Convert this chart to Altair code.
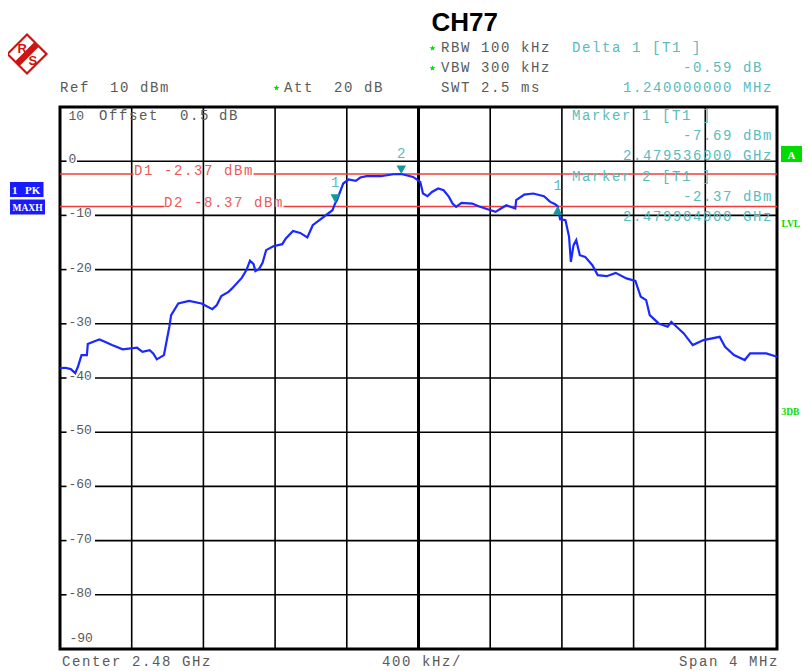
import altair as alt
import pandas as pd

# ------------------------------------------------------------------ data
freq_mhz = [2478.00, 2478.03, 2478.06, 2478.085, 2478.10, 2478.12, 2478.15, 2478.155, 2478.20, 2478.22,
            2478.25, 2478.29, 2478.35, 2478.43, 2478.46, 2478.50, 2478.52, 2478.54, 2478.58, 2478.61,
            2478.62, 2478.66, 2478.72, 2478.79, 2478.85, 2478.875, 2478.90, 2478.94, 2478.96, 2479.015,
            2479.04, 2479.06, 2479.08, 2479.09, 2479.11, 2479.13, 2479.15, 2479.19, 2479.24, 2479.26,
            2479.30, 2479.34, 2479.38, 2479.41, 2479.46, 2479.52, 2479.536, 2479.545, 2479.58, 2479.61,
            2479.65, 2479.675, 2479.71, 2479.79, 2479.86, 2479.904, 2479.97, 2480.01, 2480.025, 2480.05,
            2480.075, 2480.11, 2480.14, 2480.17, 2480.19, 2480.21, 2480.24, 2480.30, 2480.335, 2480.39,
            2480.43, 2480.46, 2480.49, 2480.54, 2480.545, 2480.59, 2480.64, 2480.70, 2480.735, 2480.76,
            2480.776, 2480.79, 2480.82, 2480.84, 2480.85, 2480.865, 2480.88, 2480.90, 2480.93, 2480.97,
            2481.00, 2481.05, 2481.10, 2481.16, 2481.21, 2481.24, 2481.27, 2481.29, 2481.34, 2481.39,
            2481.41, 2481.48, 2481.53, 2481.59, 2481.68, 2481.71, 2481.76, 2481.82, 2481.85, 2481.94,
            2482.00]
level_dbm = [-38.17, -38.11, -38.35, -39.09, -37.93, -35.77, -35.77, -33.74, -33.13, -32.88,
             -33.32, -33.93, -34.72, -34.42, -35.16, -34.85, -35.46, -36.56, -35.77, -30.55,
             -28.40, -26.24, -25.76, -26.24, -27.29, -26.55, -24.89, -24.10, -23.47, -21.48,
             -20.10, -18.35, -19.00, -20.29, -19.92, -18.76, -16.41, -15.68, -15.31, -14.26,
             -12.86, -13.23, -14.07, -11.81, -10.57, -9.04, -7.69, -7.20, -4.12, -3.38,
             -3.64, -3.01, -2.77, -2.77, -2.41, -2.37, -2.90, -3.82, -5.96, -6.46,
             -5.67, -5.04, -5.35, -6.59, -7.81, -8.43, -7.70, -7.81, -8.30, -8.91,
             -9.35, -8.73, -8.12, -8.73, -7.20, -6.15, -5.96, -6.46, -7.51, -7.90,
             -8.28, -10.70, -10.88, -13.96, -18.57, -15.49, -14.57, -17.34, -17.65, -19.18,
             -21.02, -21.21, -20.60, -21.63, -22.07, -25.02, -25.63, -28.40, -29.93, -30.55,
             -29.63, -31.77, -33.93, -33.00, -32.40, -34.24, -35.77, -36.69, -35.46, -35.46,
             -36.08]

marker_freq = [2479.536, 2479.904, 2480.776]
marker_level = [-7.69, -2.37, -8.28]
marker_label = ["1", "2", "1"]
marker_kind = ["down", "down", "up"]

display_line_level = [-2.37, -8.37]
display_line_name = ["D1", "D2"]

x_grid = [2478.4, 2478.8, 2479.2, 2479.6, 2480.4, 2480.8, 2481.2, 2481.6]
x_center = [2480.0]
y_grid = [0, -10, -20, -30, -40, -50, -60, -70, -80]
y_labels = ["0", "-10", "-20", "-30", "-40", "-50", "-60", "-70", "-80"]
x_domain = [2478.0, 2482.0]
y_domain = [-90.0, 10.0]

# ------------------------------------------------------------------ layout
W, H = 717, 542
PADL, PADT, PADR, PADB = 52, 99, 25, 22
OX, OY = 8 + PADL, 8 + PADT  # page position of plot origin

XS = alt.Scale(domain=x_domain, nice=False, zero=False)
YS = alt.Scale(domain=y_domain, nice=False, zero=False)

GRAY = "#5a5a5a"
TEAL_T = "#58bcbc"
TEAL_M = "#12999a"
RED_L = "#f23c3c"
RED_T = "#ea5a5a"
GREEN = "#00dc00"
BLUE_BOX = "#1a1aff"
TRACE = "#1b28ff"
MONO = "Liberation Mono"


def mono_rows(segments, pitch=10.0):
    rows = []
    for s, x0, y0 in segments:
        for i, ch in enumerate(s):
            if ch != " ":
                rows.append({"ch": ch, "px": x0 - OX + i * pitch, "py": y0 - OY})
    return pd.DataFrame(rows)


def pix_text(df, color, size=14, font=MONO, weight="normal", align="left"):
    return alt.Chart(df).mark_text(
        align=align, baseline="alphabetic", font=font, fontSize=size,
        color=color, fontWeight=weight
    ).encode(
        x=alt.X("px:Q", scale=None, axis=None),
        y=alt.Y("py:Q", scale=None, axis=None),
        text="ch:N",
    )


def free_text(items, color, size, font, weight="normal", align="left"):
    df = pd.DataFrame([{"ch": t, "px": x - OX, "py": y - OY} for t, x, y in items])
    return pix_text(df, color, size, font, weight, align)


layers = []

# --- vertical grid
grid_df = pd.DataFrame({"f": x_grid})
layers.append(alt.Chart(grid_df).mark_rule(color="#000000", strokeWidth=1.6).encode(
    x=alt.X("f:Q", scale=XS, axis=None)))
layers.append(alt.Chart(pd.DataFrame({"f": x_center})).mark_rule(color="#000000", strokeWidth=3).encode(
    x=alt.X("f:Q", scale=XS, axis=None)))

# --- horizontal grid, broken where the level labels sit
hg = pd.DataFrame({"lv": y_grid, "lab": y_labels})
layers.append(alt.Chart(hg).mark_rule(color="#000000", strokeWidth=1.6).encode(
    y=alt.Y("lv:Q", scale=YS, axis=None), x=alt.value(0), x2=alt.value(6.5)))
layers.append(alt.Chart(hg[hg.lv == 0]).mark_rule(color="#000000", strokeWidth=1.6).encode(
    y=alt.Y("lv:Q", scale=YS, axis=None), x=alt.value(17), x2=alt.value(W)))
layers.append(alt.Chart(hg[hg.lv != 0]).mark_rule(color="#000000", strokeWidth=1.6).encode(
    y=alt.Y("lv:Q", scale=YS, axis=None), x=alt.value(35), x2=alt.value(W)))
layers.append(alt.Chart(hg).mark_text(align="left", baseline="alphabetic", font=MONO, fontSize=13,
                                     color=GRAY, dy=2).encode(
    y=alt.Y("lv:Q", scale=YS, axis=None), x=alt.value(8.5), text="lab:N"))
# top / bottom level labels
layers.append(alt.Chart(pd.DataFrame({"lv": [10.0], "lab": ["10"]})).mark_text(
    align="left", baseline="alphabetic", font=MONO, fontSize=13, color=GRAY, dy=12.8).encode(
    y=alt.Y("lv:Q", scale=YS, axis=None), x=alt.value(8.5), text="lab:N"))
layers.append(alt.Chart(pd.DataFrame({"lv": [-90.0], "lab": ["-90"]})).mark_text(
    align="left", baseline="alphabetic", font=MONO, fontSize=13, color=GRAY, dy=-7.5).encode(
    y=alt.Y("lv:Q", scale=YS, axis=None), x=alt.value(9.5), text="lab:N"))

# --- display lines D1 / D2 (broken around their labels)
dl = pd.DataFrame({"lv": display_line_level, "name": display_line_name})
gaps = [(133.5 - OX, 253.5 - OX), (164.5 - OX, 283.5 - OX)]
for i in range(2):
    sub = dl.iloc[[i]]
    layers.append(alt.Chart(sub).mark_rule(color=RED_L, strokeWidth=1.6).encode(
        y=alt.Y("lv:Q", scale=YS, axis=None), x=alt.value(0), x2=alt.value(gaps[i][0])))
    layers.append(alt.Chart(sub).mark_rule(color=RED_L, strokeWidth=1.6).encode(
        y=alt.Y("lv:Q", scale=YS, axis=None), x=alt.value(gaps[i][1]), x2=alt.value(W)))
red_segments = [
    (f"{display_line_name[0]} {display_line_level[0]:.2f} dBm", 134, 175),
    (f"{display_line_name[1]} {display_line_level[1]:.2f} dBm", 164, 206.5),
]
layers.append(pix_text(mono_rows(red_segments), RED_T, 14))

# --- header / footer texts (gray)
gray_segments = [
    ("Ref  10 dBm", 60, 91.5),
    ("Att  20 dB", 284, 91.5),
    ("RBW 100 kHz", 441, 51.5),
    ("VBW 300 kHz", 441, 71.5),
    ("SWT 2.5 ms", 441, 91.5),
    ("Offset", 99, 119.5), ("0.5", 180, 119.5), ("dB", 219, 119.5),
    ("Center 2.48 GHz", 62, 666), ("400 kHz/", 382, 666), ("Span 4 MHz", 679, 666),
]
layers.append(pix_text(mono_rows(gray_segments), GRAY, 14))

# --- marker readouts (teal)
d_level = marker_level[2] - marker_level[0]
d_freq = marker_freq[2] - marker_freq[0]
teal_segments = [
    ("Delta 1 [T1 ]", 572, 51.5),
    (f"{d_level:.2f} dB", 683, 71.5),
    (f"{d_freq:.9f} MHz", 623, 91.5),
    ("Marker 1 [T1 ]", 572, 119.5),
    (f"{marker_level[0]:.2f} dBm", 683, 140),
    (f"{marker_freq[0] / 1000:.9f} GHz", 623, 160),
    ("Marker 2 [T1 ]", 572, 180.5),
    (f"{marker_level[1]:.2f} dBm", 683, 200.5),
    (f"{marker_freq[1] / 1000:.9f} GHz", 623, 220.5),
]
layers.append(pix_text(mono_rows(teal_segments), TEAL_T, 14))

# --- title
layers.append(free_text([("CH77", 431.5, 30.7)], "#000000", 26, "Liberation Sans", "bold"))

# --- green stars
STAR = ("M0,-1L0.235,-0.324L0.951,-0.309L0.380,0.124L0.588,0.809L0,0.4L-0.588,0.809"
        "L-0.380,0.124L-0.951,-0.309L-0.235,-0.324Z")
stars = pd.DataFrame({"px": [432.5 - OX, 432.5 - OX, 276.5 - OX], "py": [48.3 - OY, 68.3 - OY, 88 - OY]})
layers.append(alt.Chart(stars).mark_point(shape=STAR, size=40, filled=True, color=GREEN, opacity=1).encode(
    x=alt.X("px:Q", scale=None, axis=None), y=alt.Y("py:Q", scale=None, axis=None)))

# --- side boxes
boxes = pd.DataFrame({
    "x0": [10 - OX, 10 - OX, 781 - OX], "x1": [43.5 - OX, 45 - OX, 802 - OX],
    "y0": [182 - OY, 199.5 - OY, 146 - OY], "y1": [197 - OY, 214.5 - OY, 162 - OY],
    "c": [BLUE_BOX, BLUE_BOX, GREEN],
})
layers.append(alt.Chart(boxes).mark_rect().encode(
    x=alt.X("x0:Q", scale=None, axis=None), x2="x1:Q",
    y=alt.Y("y0:Q", scale=None, axis=None), y2="y1:Q",
    color=alt.Color("c:N", scale=None)))
layers.append(free_text([("1", 12, 193.8), ("PK", 25, 193.8)],
                        "#ffffff", 11, "Liberation Serif", "bold"))
layers.append(free_text([("MAXH", 27.5, 210.5)], "#ffffff", 9.5, "Liberation Serif", "bold", "center"))
layers.append(free_text([("A", 791.5, 158.5)], "#ffffff", 11, "Liberation Serif", "bold", "center"))
layers.append(free_text([("LVL", 781.5, 226.5), ("3DB", 781.5, 415)], GREEN, 9.5, "Liberation Serif", "bold"))

# --- R&S logo
LOGO = ("M-1,0L0,-1L1,0L0,1Z M-0.58,0.42L0.42,-0.58 M-0.5,0.5L0.5,-0.5 M-0.42,0.58L0.58,-0.42")
logo = pd.DataFrame({"px": [27 - OX], "py": [54 - OY]})
layers.append(alt.Chart(logo).mark_point(shape=LOGO, size=1521, filled=False, color="#cc1414",
                                         strokeWidth=2.2, opacity=1).encode(
    x=alt.X("px:Q", scale=None, axis=None), y=alt.Y("py:Q", scale=None, axis=None)))
layers.append(free_text([("R", 17.5, 52.5), ("S", 28.5, 64.5)], "#cc1414", 13, "Liberation Sans", "bold"))

# --- trace
trace = pd.DataFrame({"f": freq_mhz, "lv": level_dbm})
layers.append(alt.Chart(trace).mark_line(color=TRACE, strokeWidth=2.2).encode(
    x=alt.X("f:Q", scale=XS, axis=None), y=alt.Y("lv:Q", scale=YS, axis=None)))

# --- markers
mk = pd.DataFrame({"f": marker_freq, "lv": marker_level, "lab": marker_label, "kind": marker_kind})
TRI_DOWN = "M0,0L-0.55,-1L0.55,-1Z"
TRI_UP = "M0,0L-0.55,1L0.55,1Z"
layers.append(alt.Chart(mk[mk.kind == "down"]).mark_point(shape=TRI_DOWN, size=300, filled=True,
                                                           color=TEAL_M, opacity=1).encode(
    x=alt.X("f:Q", scale=XS, axis=None), y=alt.Y("lv:Q", scale=YS, axis=None)))
layers.append(alt.Chart(mk[mk.kind == "up"]).mark_point(shape=TRI_UP, size=300, filled=True,
                                                         color=TEAL_M, opacity=1).encode(
    x=alt.X("f:Q", scale=XS, axis=None), y=alt.Y("lv:Q", scale=YS, axis=None)))
layers.append(alt.Chart(mk).mark_text(align="center", baseline="alphabetic", font=MONO, fontSize=14,
                                     color=TEAL_T, dy=-16).encode(
    x=alt.X("f:Q", scale=XS, axis=None), y=alt.Y("lv:Q", scale=YS, axis=None), text="lab:N"))

chart = alt.layer(*layers).properties(
    width=W, height=H,
    padding={"left": PADL, "top": PADT, "right": PADR, "bottom": PADB},
    autosize=alt.AutoSizeParams(type="none"),
    background="white",
).configure_view(stroke="#000000", strokeWidth=3)

chart.save("out.html", embed_options={"renderer": "svg", "actions": False})
